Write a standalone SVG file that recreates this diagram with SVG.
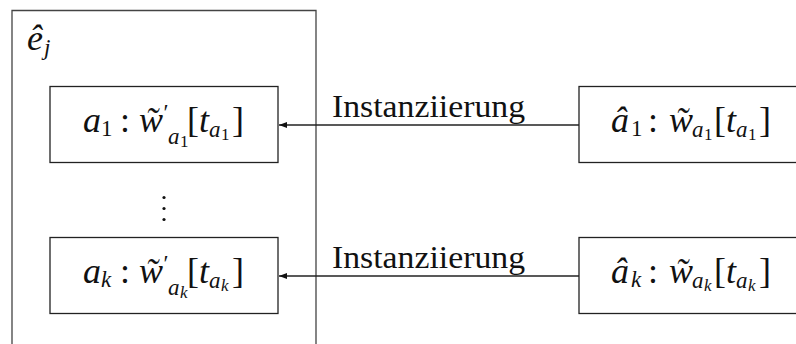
<svg xmlns="http://www.w3.org/2000/svg" width="796" height="344" viewBox="0 0 796 344">
  <style>
    .box { fill: #fff; stroke: #222; stroke-width: 1.3; }
    .outer { fill: none; stroke: #444; stroke-width: 1.3; }
    .edge { fill: none; stroke: #222; stroke-width: 1.3; }
    .m { font-family: "Liberation Serif", "DejaVu Serif", serif; font-size: 36px; fill: #111; }
    .i { font-style: italic; }
    .s { font-size: 23px; }
    .ss { font-size: 17px; }
    .lbl { font-family: "Liberation Serif", "DejaVu Serif", serif; font-size: 32px; fill: #111; }
  </style>
  <defs>
    <marker id="tip" viewBox="0 0 8 6" refX="8" refY="3" markerWidth="8" markerHeight="6" markerUnits="userSpaceOnUse" orient="auto">
      <path d="M0,0 L8,3 L0,6 z" fill="#111"/>
    </marker>
  </defs>

  <!-- container e_j -->
  <g id="container">
    <path class="outer" d="M12,350 V10.5 H316 V350"/>
    <text class="m"><tspan class="i" x="27" y="50">ê</tspan><tspan class="i s" x="44" y="55">j</tspan></text>
    <g id="vdots" fill="#111">
      <circle cx="164" cy="197.5" r="1.6"/>
      <circle cx="164" cy="208.5" r="1.6"/>
      <circle cx="164" cy="219.5" r="1.6"/>
    </g>
  </g>

  <!-- instance a_1 -->
  <g id="inst1">
    <rect class="box" x="50" y="86.5" width="228" height="76"/>
    <text class="m"><tspan class="i" x="83" y="132">a</tspan><tspan class="s" x="101" y="136">1</tspan><tspan x="120" y="132">:</tspan><tspan class="i" x="139" y="132">w̃</tspan><tspan class="s" x="163.5" y="120">′</tspan><tspan class="i s" x="168" y="144">a</tspan><tspan class="ss" x="180" y="147">1</tspan><tspan x="187" y="132">[</tspan><tspan class="i" x="199" y="132">t</tspan><tspan class="i s" x="209" y="137">a</tspan><tspan class="ss" x="221" y="140">1</tspan><tspan x="232" y="132">]</tspan></text>
  </g>

  <!-- instance a_k -->
  <g id="instk">
    <rect class="box" x="50" y="237.5" width="228" height="76"/>
    <text class="m"><tspan class="i" x="83" y="283">a</tspan><tspan class="i s" x="101" y="287">k</tspan><tspan x="120" y="283">:</tspan><tspan class="i" x="139" y="283">w̃</tspan><tspan class="s" x="163.5" y="271">′</tspan><tspan class="i s" x="168" y="295">a</tspan><tspan class="i ss" x="180" y="298">k</tspan><tspan x="187" y="283">[</tspan><tspan class="i" x="199" y="283">t</tspan><tspan class="i s" x="209" y="288">a</tspan><tspan class="i ss" x="221" y="291">k</tspan><tspan x="232" y="283">]</tspan></text>
  </g>

  <!-- source a-hat_1 -->
  <g id="src1">
    <rect class="box" x="579" y="86.5" width="240" height="76"/>
    <text class="m"><tspan class="i" x="611" y="132">â</tspan><tspan class="s" x="631" y="136">1</tspan><tspan x="648" y="132">:</tspan><tspan class="i" x="669" y="132">w̃</tspan><tspan class="i s" x="692" y="137">a</tspan><tspan class="ss" x="704" y="140">1</tspan><tspan x="714" y="132">[</tspan><tspan class="i" x="726" y="132">t</tspan><tspan class="i s" x="736" y="137">a</tspan><tspan class="ss" x="748" y="140">1</tspan><tspan x="759" y="132">]</tspan></text>
  </g>

  <!-- source a-hat_k -->
  <g id="srck">
    <rect class="box" x="579" y="237.5" width="240" height="76"/>
    <text class="m"><tspan class="i" x="611" y="283">â</tspan><tspan class="i s" x="631" y="287">k</tspan><tspan x="648" y="283">:</tspan><tspan class="i" x="669" y="283">w̃</tspan><tspan class="i s" x="692" y="288">a</tspan><tspan class="i ss" x="704" y="291">k</tspan><tspan x="714" y="283">[</tspan><tspan class="i" x="726" y="283">t</tspan><tspan class="i s" x="736" y="288">a</tspan><tspan class="i ss" x="748" y="291">k</tspan><tspan x="759" y="283">]</tspan></text>
  </g>

  <!-- connectors -->
  <g id="edges">
    <line class="edge" x1="579" y1="125" x2="279" y2="125" marker-end="url(#tip)"/>
    <line class="edge" x1="579" y1="276" x2="279" y2="276" marker-end="url(#tip)"/>
    <text class="lbl" x="332" y="117" textLength="193" lengthAdjust="spacingAndGlyphs">Instanziierung</text>
    <text class="lbl" x="332" y="268" textLength="193" lengthAdjust="spacingAndGlyphs">Instanziierung</text>
  </g>
</svg>
